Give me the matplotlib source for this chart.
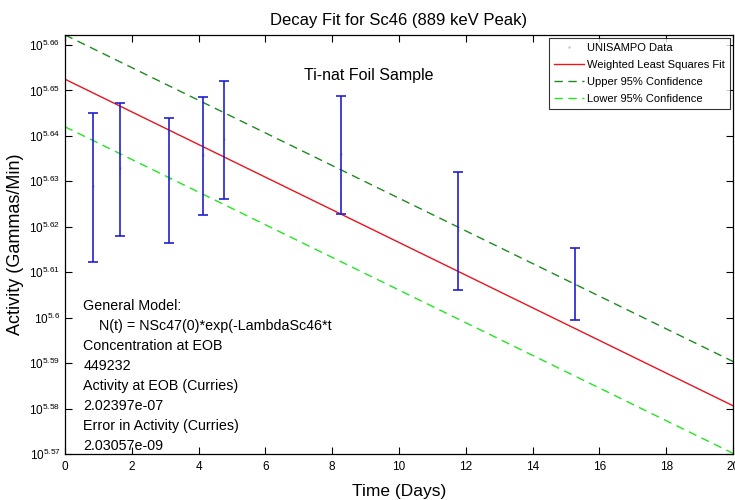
import numpy as np
import matplotlib
matplotlib.use('Agg')
import matplotlib.pyplot as plt
from matplotlib.ticker import FixedLocator, FuncFormatter, NullLocator

plt.rcParams['font.family'] = ['Liberation Sans', 'DejaVu Sans']
plt.rcParams['mathtext.fontset'] = 'custom'
plt.rcParams['mathtext.rm'] = 'Liberation Sans'
plt.rcParams['mathtext.it'] = 'Liberation Sans'

# measured points (days since EOB, gammas/min) with 1-sigma errors
days = [0.83, 1.64, 3.11, 4.13, 4.75, 8.25, 11.76, 15.27]
activity = [425550, 429375, 427030, 432245, 435795, 432545, 416100, 405030]
activity_err = [16020, 14535, 13520, 12895, 12955, 12905, 12450, 7360]

# weighted fit and 95% bounds: N(t) = N0 * exp(-lambda * t)
n0_fit = 449232
n0_upper = 459420
n0_lower = 438530
lambda_sc46 = 0.008272  # 1/day
t_max = 20

ytick_exps = [5.57, 5.58, 5.59, 5.60, 5.61, 5.62, 5.63, 5.64, 5.65, 5.66]
xticks = [0, 2, 4, 6, 8, 10, 12, 14, 16, 18, 20]

info_lines = [
    'General Model:',
    '    N(t) = NSc47(0)*exp(-LambdaSc46*t',
    'Concentration at EOB',
    '449232',
    'Activity at EOB (Curries)',
    '2.02397e-07',
    'Error in Activity (Curries)',
    '2.03057e-09',
]

fig = plt.figure(figsize=(7.35, 5.0), dpi=100)
ax = fig.add_axes([65 / 735, 1 - 454 / 500, 668 / 735, 419 / 500])

t = np.linspace(0, t_max, 200)
ax.plot(days, activity, '.', color='#c8c8c8', markersize=1.5, label='UNISAMPO Data',
        zorder=1)
ax.errorbar(days, activity, yerr=activity_err, fmt='none', ecolor='#2020d0',
            elinewidth=1.2, capsize=3.5, capthick=1.2, zorder=3)
ax.plot(t, n0_fit * np.exp(-lambda_sc46 * t), color='#e8141e', lw=1,
        label='Weighted Least Squares Fit')
ax.plot(t, n0_upper * np.exp(-lambda_sc46 * t), '--', color='#1f8a1f', lw=1,
        dashes=(6, 4), label='Upper 95% Confidence')
ax.plot(t, n0_lower * np.exp(-lambda_sc46 * t), '--', color='#22e622', lw=1,
        dashes=(6, 4), label='Lower 95% Confidence')

ax.set_yscale('log')
ax.set_xlim(0, t_max)
ax.set_ylim(10 ** 5.57, 10 ** 5.6622)
ax.yaxis.set_major_locator(FixedLocator([10 ** e for e in ytick_exps]))
ax.yaxis.set_minor_locator(NullLocator())
ax.yaxis.set_major_formatter(FuncFormatter(
    lambda v, p: r'$10^{%s}$' % ('%g' % round(np.log10(v), 2))))
ax.set_xticks(xticks)
ax.tick_params(direction='in', top=True, right=True, length=5, width=0.8,
               labelsize=8.5, colors='black')
ax.tick_params(axis='x', pad=5)
for sp in ax.spines.values():
    sp.set_linewidth(0.9)

ax.set_title('Decay Fit for Sc46 (889 keV Peak)', fontsize=12, pad=7)
ax.set_xlabel('Time (Days)', fontsize=12.5, labelpad=8)
ax.set_ylabel('Activity (Gammas/Min)', fontsize=13, labelpad=4)

ax.text(9.1, 10 ** 5.6533, 'Ti-nat Foil Sample', fontsize=11.5, ha='center', va='center')
ax.text(0.55, 10 ** 5.6040, '\n'.join(info_lines), fontsize=10.3, ha='left', va='top',
        linespacing=1.54)

leg = ax.legend(loc='upper right', fontsize=8, frameon=True, fancybox=False,
                borderaxespad=0.3, handlelength=2.7, handletextpad=0.3,
                labelspacing=0.62, borderpad=0.45)
leg.get_frame().set_edgecolor('black')
leg.get_frame().set_linewidth(0.8)

fig.savefig('out.png', dpi=100)
plt.close(fig)
